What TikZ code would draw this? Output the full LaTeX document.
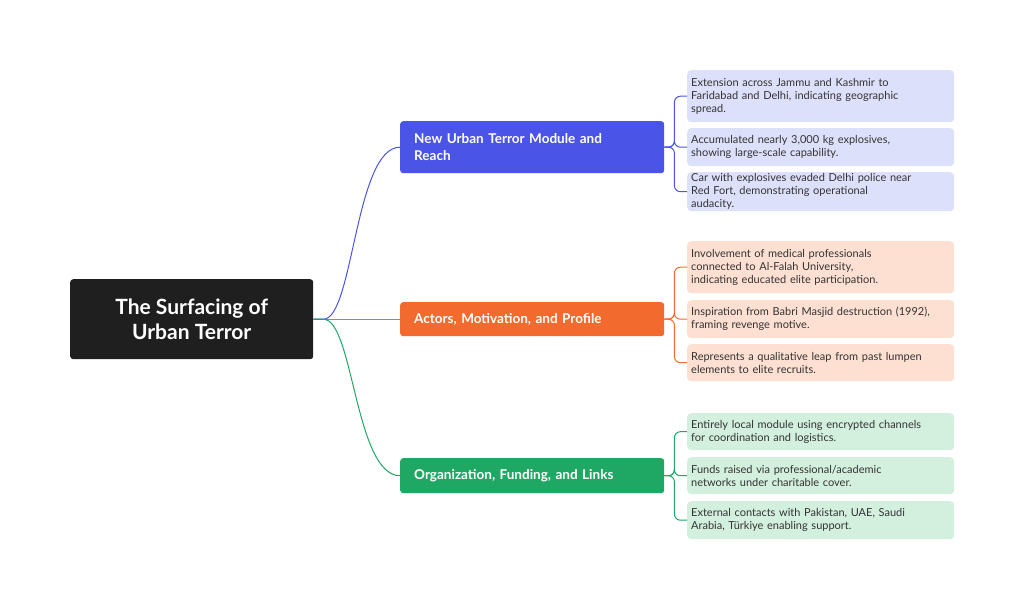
\documentclass[tikz,border=0pt]{standalone}
\usepackage{fontspec}
\setmainfont{Lato}
\definecolor{cb}{HTML}{4A55E8}\definecolor{lb}{HTML}{DDE0FB}
\definecolor{co}{HTML}{F26A2E}\definecolor{lo}{HTML}{FDE0D2}
\definecolor{cg}{HTML}{1FA863}\definecolor{lg}{HTML}{D3F0DF}
\begin{document}
\begin{tikzpicture}[x=1pt,y=-1pt,
 root/.style={fill=black!88,rounded corners=3pt,text=white,font=\bfseries\fontsize{21}{25}\selectfont,align=center,minimum width=243pt,minimum height=80pt,anchor=north west,inner sep=0pt},
 br/.style={fill=#1,rounded corners=3pt,text=white,font=\bfseries\fontsize{13.5}{17}\selectfont,align=left,text width=236pt,minimum height=34pt,anchor=north west,inner xsep=14pt,inner ysep=0pt},
 lf/.style={fill=#1,rounded corners=4pt,font=\fontsize{11}{13}\selectfont,align=left,text width=259pt,anchor=north west,inner xsep=4pt,inner ysep=0pt,text=black!80},
 cn/.style={draw=#1,line width=1pt},
 bk/.style={draw=#1,line width=1pt,rounded corners=6pt}]
\useasboundingbox (0,0) rectangle (1024,609);
\node[root] (r) at (70,279) {The Surfacing of\\Urban Terror};
\node[br=cb,minimum height=52pt] (b1) at (400,121) {New Urban Terror Module and\\Reach};
\node[br=co] (b2) at (400,302) {Actors, Motivation, and Profile};
\node[br=cg,minimum height=35pt] (b3) at (400,458) {Organization, Funding, and Links};
\node[lf=lb,minimum height=52pt] (l1) at (687,70) {Extension across Jammu and Kashmir to\\Faridabad and Delhi, indicating geographic\\spread.};
\node[lf=lb,minimum height=38pt] (l2) at (687,128) {Accumulated nearly 3,000 kg explosives,\\showing large-scale capability.};
\node[lf=lb,minimum height=39pt] (l3) at (687,172) {Car with explosives evaded Delhi police near\\Red Fort, demonstrating operational\\audacity.};
\node[lf=lo,minimum height=52pt] (l4) at (687,241) {Involvement of medical professionals\\connected to Al-Falah University,\\indicating educated elite participation.};
\node[lf=lo,minimum height=38pt] (l5) at (687,300) {Inspiration from Babri Masjid destruction (1992),\\framing revenge motive.};
\node[lf=lo,minimum height=37pt] (l6) at (687,344) {Represents a qualitative leap from past lumpen\\elements to elite recruits.};
\node[lf=lg,minimum height=37pt] (l7) at (687,413) {Entirely local module using encrypted channels\\for coordination and logistics.};
\node[lf=lg,minimum height=37pt] (l8) at (687,457) {Funds raised via professional/academic\\networks under charitable cover.};
\node[lf=lg,minimum height=38pt] (l9) at (687,501) {External contacts with Pakistan, UAE, Saudi\\Arabia, Türkiye enabling support.};
\coordinate (rs) at ([xshift=10pt]r.east);
\draw[cn=co] (r.east) -- (b2.west);
\draw[cn=cb] (r.east) -- (rs) .. controls ([xshift=30pt]rs) and ([xshift=-45pt]b1.west) .. (b1.west);
\draw[cn=cg] (r.east) -- (rs) .. controls ([xshift=30pt]rs) and ([xshift=-45pt]b3.west) .. (b3.west);
\foreach \b/\c/\l in {b1/cb/l1,b1/cb/l2,b1/cb/l3,b2/co/l4,b2/co/l5,b2/co/l6,b3/cg/l7,b3/cg/l8,b3/cg/l9}
  \draw[bk=\c] (\b.east) -- ++(10,0) |- (\l.west);
\end{tikzpicture}
\end{document}
